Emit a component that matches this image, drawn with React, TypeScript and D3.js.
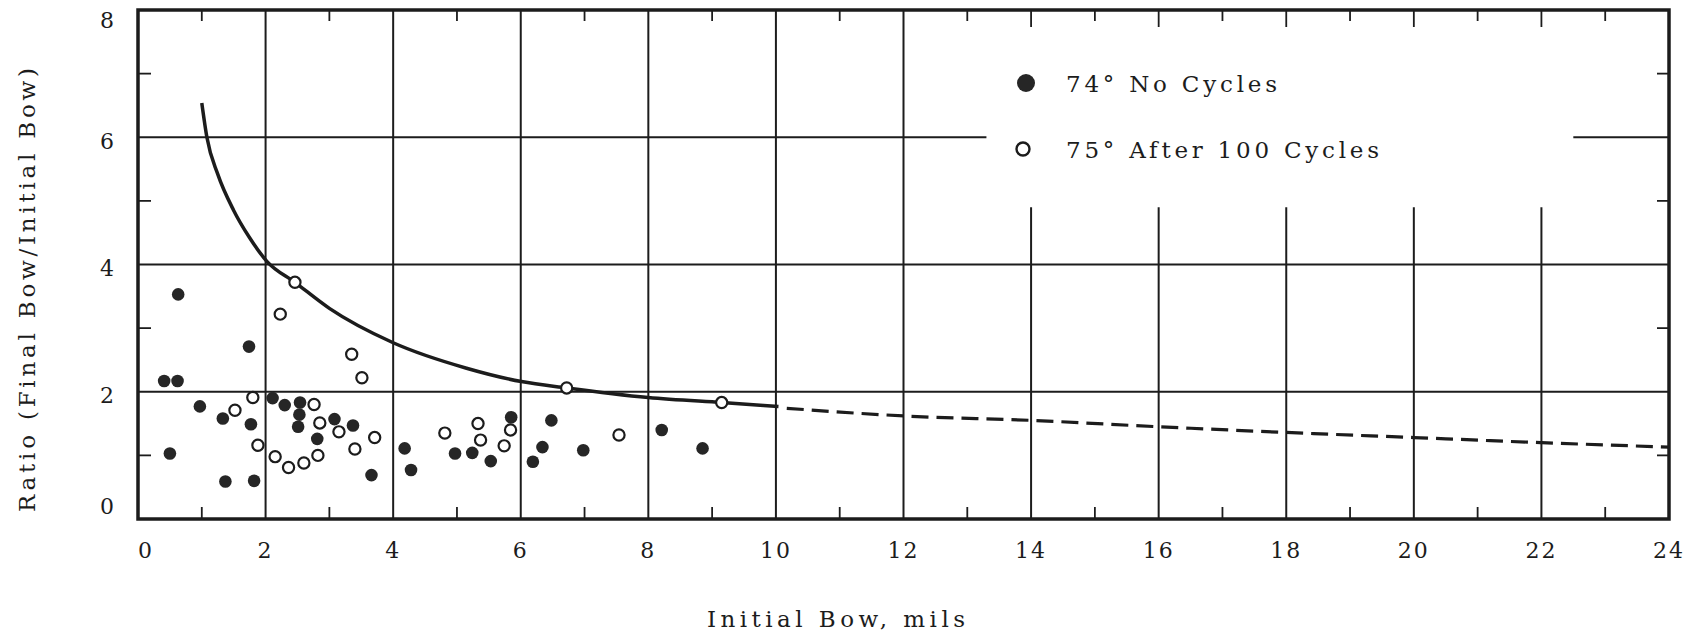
import React, { useEffect, useRef } from 'react';
import * as d3 from 'd3';

// Points (x = initial bow in mils, y = ratio)
const filledX = [0.63, 0.41, 0.62, 0.5, 0.97, 1.33, 1.74, 1.77, 1.37, 1.82, 2.11, 2.3, 2.54, 2.53, 2.51, 2.81, 3.08, 3.37, 3.66, 4.18, 4.28, 4.97, 5.24, 5.53, 5.85, 6.19, 6.34, 6.48, 6.98, 8.21, 8.85];
const filledY = [3.53, 2.17, 2.17, 1.03, 1.77, 1.58, 2.71, 1.49, 0.59, 0.6, 1.9, 1.79, 1.83, 1.64, 1.45, 1.26, 1.57, 1.47, 0.69, 1.11, 0.77, 1.03, 1.04, 0.91, 1.6, 0.9, 1.13, 1.55, 1.08, 1.4, 1.11];

const openX = [2.23, 1.8, 1.52, 1.88, 2.15, 2.36, 2.6, 2.82, 2.76, 2.85, 3.15, 3.35, 3.51, 3.4, 3.71, 4.81, 5.33, 5.37, 5.74, 5.84, 7.54, 2.46, 6.72, 9.15];
const openY = [3.22, 1.91, 1.71, 1.16, 0.98, 0.81, 0.88, 1.0, 1.8, 1.51, 1.37, 2.59, 2.22, 1.1, 1.28, 1.35, 1.5, 1.24, 1.15, 1.4, 1.32, 3.72, 2.06, 1.83];

// Fitted curve, solid part then dashed extrapolation
const solidX = [1.0, 1.08, 1.25, 1.5, 1.75, 2.02, 2.46, 3.0, 4.0, 5.15, 6.01, 6.72, 8.0, 9.15, 10.04];
const solidY = [6.54, 6.0, 5.42, 4.85, 4.42, 4.05, 3.72, 3.31, 2.77, 2.37, 2.16, 2.06, 1.91, 1.83, 1.77];
const dashX = [10.17, 12, 14, 16, 18, 20, 22, 24];
const dashY = [1.74, 1.62, 1.55, 1.45, 1.36, 1.28, 1.2, 1.13];

const xTicks = [0, 2, 4, 6, 8, 10, 12, 14, 16, 18, 20, 22, 24];
const yTicks = [0, 2, 4, 6, 8];
const xGridFull = [2, 4, 6, 8, 10, 12];
const xGridPartial = [14, 16, 18, 20, 22];
const xMinor = [1, 3, 5, 7, 9, 11, 13, 15, 17, 19, 21, 23];
const yMinor = [1, 3, 5, 7];

const legendLabels = ['74° No Cycles', '75° After 100 Cycles'];

const W = 1698;
const H = 638;
const INK = '#1c1c1c';
const FONT = '"DejaVu Serif", serif';

const App = () => {
  const ref = useRef<SVGSVGElement | null>(null);

  useEffect(() => {
    if (!ref.current) return;
    const svg = d3.select(ref.current);
    svg.selectAll('*').remove();

    const x = d3.scaleLinear().domain([0, 24]).range([138, 1669]);
    const y = d3.scaleLinear().domain([0, 8]).range([519, 10]);

    const g = svg.append('g');

    // gridlines
    g.selectAll('line.vfull')
      .data(xGridFull)
      .join('line')
      .attr('x1', d => x(d)).attr('x2', d => x(d))
      .attr('y1', y(0)).attr('y2', y(8))
      .attr('stroke', INK).attr('stroke-width', 2);

    g.selectAll('line.vpart')
      .data(xGridPartial)
      .join('line')
      .attr('x1', d => x(d)).attr('x2', d => x(d))
      .attr('y1', y(0)).attr('y2', y(4.9))
      .attr('stroke', INK).attr('stroke-width', 2);

    g.selectAll('line.h')
      .data([2, 4])
      .join('line')
      .attr('x1', x(0)).attr('x2', x(24))
      .attr('y1', d => y(d)).attr('y2', d => y(d))
      .attr('stroke', INK).attr('stroke-width', 1.8);

    // y = 6 line is broken around the legend
    g.selectAll('line.h6')
      .data([[0, 13.3], [22.5, 24]])
      .join('line')
      .attr('x1', d => x(d[0])).attr('x2', d => x(d[1]))
      .attr('y1', y(6)).attr('y2', y(6))
      .attr('stroke', INK).attr('stroke-width', 1.8);

    // minor ticks
    g.selectAll('line.tb')
      .data(xMinor)
      .join('line')
      .attr('x1', d => x(d)).attr('x2', d => x(d))
      .attr('y1', y(0)).attr('y2', y(0) - 12)
      .attr('stroke', INK).attr('stroke-width', 1.8);

    g.selectAll('line.tt')
      .data(xMinor.concat(xGridPartial))
      .join('line')
      .attr('x1', d => x(d)).attr('x2', d => x(d))
      .attr('y1', y(8)).attr('y2', d => y(8) + (xGridPartial.includes(d) ? 17 : 11))
      .attr('stroke', INK).attr('stroke-width', 1.8);

    g.selectAll('line.tl')
      .data(yMinor)
      .join('line')
      .attr('x1', x(0)).attr('x2', x(0) + 13)
      .attr('y1', d => y(d)).attr('y2', d => y(d))
      .attr('stroke', INK).attr('stroke-width', 1.8);

    g.selectAll('line.tr')
      .data(yMinor)
      .join('line')
      .attr('x1', x(24) - 12).attr('x2', x(24))
      .attr('y1', d => y(d)).attr('y2', d => y(d))
      .attr('stroke', INK).attr('stroke-width', 1.8);

    // frame
    g.append('rect')
      .attr('x', x(0)).attr('y', y(8))
      .attr('width', x(24) - x(0)).attr('height', y(0) - y(8))
      .attr('fill', 'none').attr('stroke', INK).attr('stroke-width', 3.5);

    // curve
    const line = d3.line<[number, number]>()
      .x(d => x(d[0]))
      .y(d => y(d[1]))
      .curve(d3.curveMonotoneX);

    g.append('path')
      .datum(solidX.map((v, i) => [v, solidY[i]] as [number, number]))
      .attr('d', line)
      .attr('fill', 'none').attr('stroke', INK).attr('stroke-width', 3.5);

    g.append('path')
      .datum(dashX.map((v, i) => [v, dashY[i]] as [number, number]))
      .attr('d', line)
      .attr('fill', 'none').attr('stroke', INK).attr('stroke-width', 3.2)
      .attr('stroke-dasharray', '17 8');

    // points
    g.selectAll('circle.f')
      .data(filledX.map((v, i) => [v, filledY[i]]))
      .join('circle')
      .attr('cx', d => x(d[0])).attr('cy', d => y(d[1]))
      .attr('r', 6.3)
      .attr('fill', '#262626');

    g.selectAll('circle.o')
      .data(openX.map((v, i) => [v, openY[i]]))
      .join('circle')
      .attr('cx', d => x(d[0])).attr('cy', d => y(d[1]))
      .attr('r', 5.6)
      .attr('fill', '#fff').attr('stroke', INK).attr('stroke-width', 2.2);

    // tick labels
    g.selectAll('text.xt')
      .data(xTicks)
      .join('text')
      .attr('x', d => x(d) + (d === 0 ? 8 : 0))
      .attr('y', 558)
      .attr('text-anchor', 'middle')
      .attr('font-family', FONT).attr('font-size', 22)
      .attr('letter-spacing', 2)
      .attr('fill', INK)
      .text(d => d);

    g.selectAll('text.yt')
      .data(yTicks)
      .join('text')
      .attr('x', 107)
      .attr('y', d => y(d) + (d === 0 ? -13 : d === 8 ? 10 : 4))
      .attr('text-anchor', 'middle')
      .attr('dominant-baseline', 'central')
      .attr('font-family', FONT).attr('font-size', 22)
      .attr('fill', INK)
      .text(d => d);

    // axis titles
    g.append('text')
      .attr('x', 707).attr('y', 627)
      .attr('font-family', FONT).attr('font-size', 23)
      .attr('textLength', 258).attr('lengthAdjust', 'spacing')
      .attr('fill', INK)
      .text('Initial Bow,  mils');

    g.append('text')
      .attr('transform', 'translate(35,290) rotate(-90)')
      .attr('text-anchor', 'middle')
      .attr('font-family', FONT).attr('font-size', 23)
      .attr('textLength', 444).attr('lengthAdjust', 'spacing')
      .attr('fill', INK)
      .text('Ratio (Final Bow/Initial Bow)');

    // legend
    const lg = g.append('g');
    lg.append('circle')
      .attr('cx', 1026).attr('cy', 83).attr('r', 9)
      .attr('fill', '#262626');
    lg.append('circle')
      .attr('cx', 1023).attr('cy', 149).attr('r', 6.5)
      .attr('fill', '#fff').attr('stroke', INK).attr('stroke-width', 2.4);
    lg.selectAll('text')
      .data(legendLabels)
      .join('text')
      .attr('x', 1066)
      .attr('y', (d, i) => (i === 0 ? 92 : 158))
      .attr('font-family', FONT).attr('font-size', 23)
      .attr('textLength', (d, i) => (i === 0 ? 211 : 313))
      .attr('lengthAdjust', 'spacing')
      .attr('fill', INK)
      .text(d => d);
  }, []);

  return (
    <div style={{ position: 'fixed', top: 0, left: 0, width: W, height: H, background: '#fff' }}>
      <svg ref={ref} width={W} height={H} viewBox={`0 0 ${W} ${H}`} />
    </div>
  );
};

export default App;
